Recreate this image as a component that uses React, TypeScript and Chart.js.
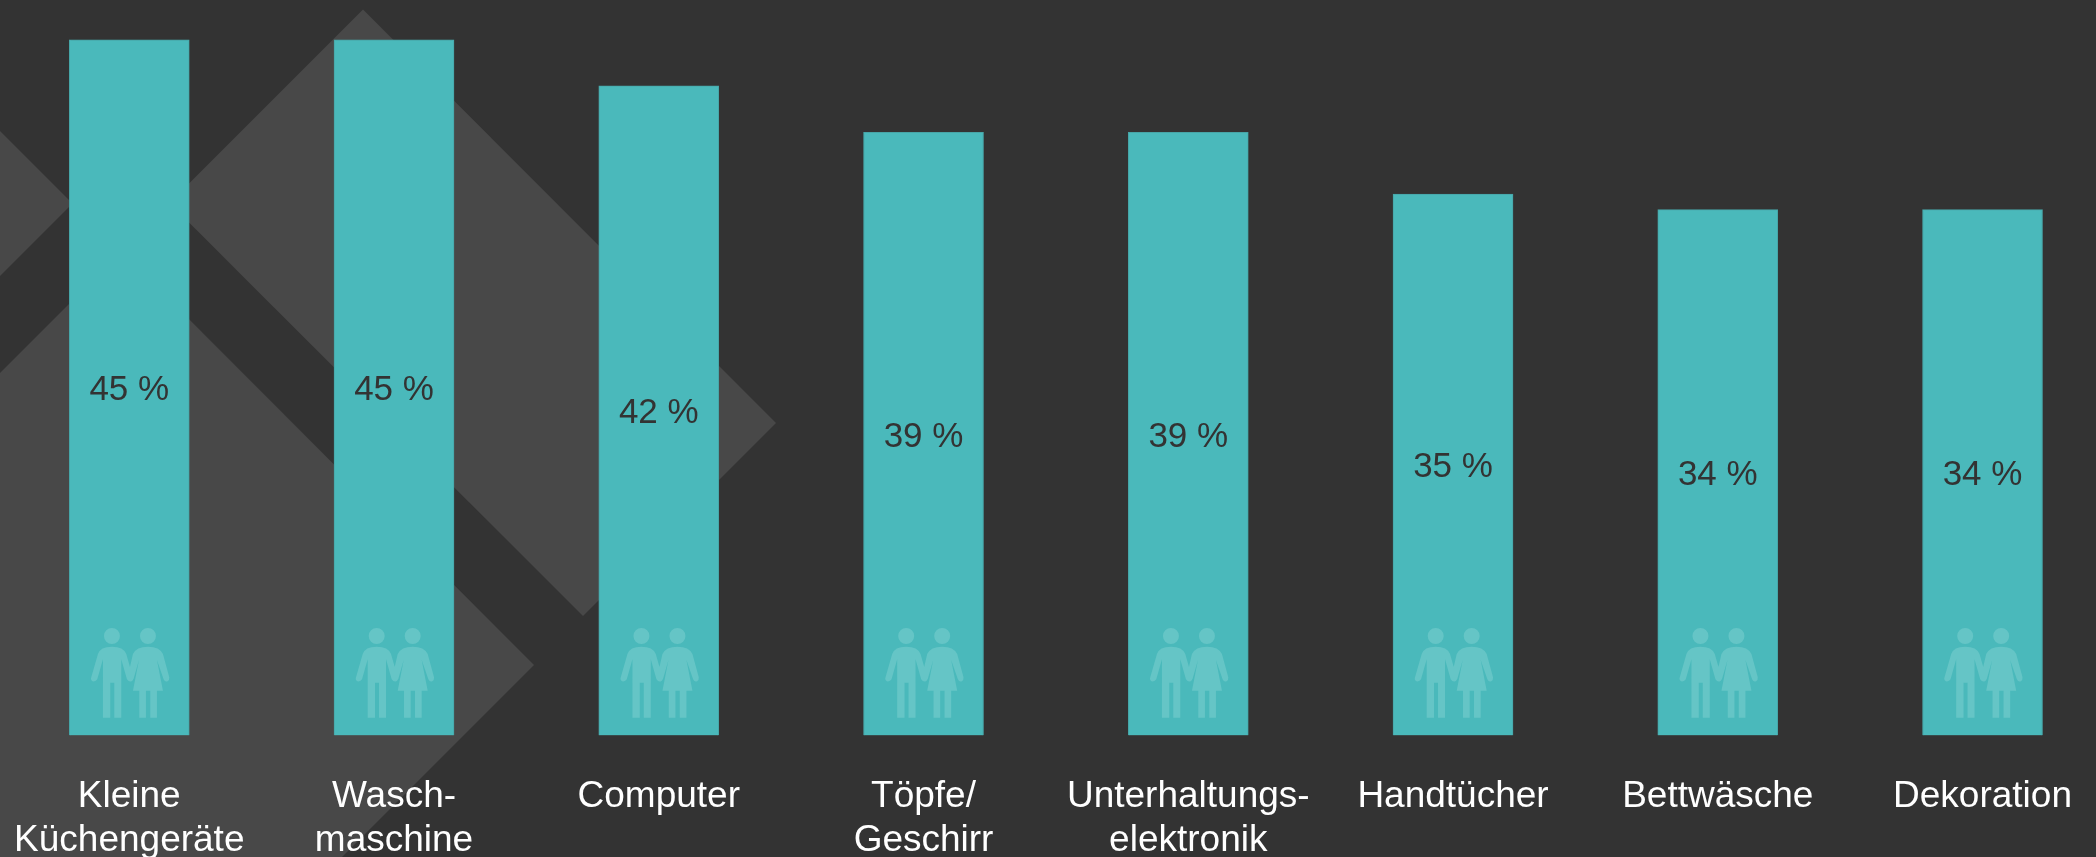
import React, { useEffect, useRef } from "react";
import { Chart, registerables } from "chart.js";

Chart.register(...registerables);

const categories: (string | string[])[] = [
  ["Kleine", "Küchengeräte"],
  ["Wasch-", "maschine"],
  "Computer",
  ["Töpfe/", "Geschirr"],
  ["Unterhaltungs-", "elektronik"],
  "Handtücher",
  "Bettwäsche",
  "Dekoration",
];
const shares = [45, 45, 42, 39, 39, 35, 34, 34];

const FONT = '"Liberation Sans", Arial, sans-serif';
const BG = "#333333";
const SHAPE = "#484848";
const BAR = "#4ab9bb";
const BAR_EDGE = "#47a5a7";
const ICON = "#65c5c6";
const LABEL_DARK = "#333333";

// Couple pictogram, in a 3x local grid; origin is moved per bar.
const COUPLE_PATH =
  "M158,353 L158,178 L141,238 Q136,246 127,244 Q120,240 123,232 L143,162 Q150,140 185,140 Q220,140 228,162 L248,232 Q250,240 244,244 Q236,247 230,238 L213,178 L213,353 L192,353 L192,248 L180,248 L180,353 Z " +
  "M267,353 L267,272 L248,272 L266,180 L250,236 Q246,246 238,244 Q230,240 232,232 L248,162 Q258,140 293,140 Q328,140 338,162 L357,232 Q358,240 352,244 Q344,247 340,238 L320,180 L338,272 L320,272 L320,353 L300,353 L300,272 L287,272 L287,353 Z";

const decorations = {
  id: "decorations",
  afterDatasetsDraw(chart: any) {
    const { ctx } = chart;
    const meta = chart.getDatasetMeta(0);
    ctx.save();
    meta.data.forEach((bar: any, i: number) => {
      // pictogram
      ctx.save();
      ctx.translate(bar.x - 129 + 50, bar.base - 735.5 + 600);
      ctx.scale(1 / 3, 1 / 3);
      ctx.fillStyle = ICON;
      ctx.fill(new Path2D(COUPLE_PATH));
      ctx.beginPath();
      ctx.arc(185, 108, 24, 0, Math.PI * 2);
      ctx.arc(293, 108, 24, 0, Math.PI * 2);
      ctx.fill();
      ctx.restore();
      // value
      ctx.fillStyle = LABEL_DARK;
      ctx.font = `35px ${FONT}`;
      ctx.textAlign = "center";
      ctx.textBaseline = "middle";
      ctx.fillText(`${shares[i]} %`, bar.x, (bar.y + bar.base) / 2 + 3);
    });
    ctx.restore();
  },
};

export default function App() {
  const ref = useRef<HTMLCanvasElement>(null);
  useEffect(() => {
    const chart = new Chart(ref.current!, {
      type: "bar",
      data: {
        labels: categories as any,
        datasets: [
          {
            data: shares,
            backgroundColor: BAR,
            borderColor: BAR_EDGE,
            borderWidth: 1,
            barThickness: 120,
          },
        ],
      },
      options: {
        animation: false,
        responsive: false,
        layout: { padding: { left: 0.9, right: 9.1, top: 39.5, bottom: 0 } },
        plugins: { legend: { display: false }, tooltip: { enabled: false } },
        scales: {
          x: {
            grid: { display: false },
            border: { display: false },
            afterFit(scale: any) {
              scale.height = 121.5;
              scale.paddingLeft = 0;
              scale.paddingRight = 0;
            },
            ticks: {
              color: "#ffffff",
              padding: 31,
              maxRotation: 0,
              autoSkip: false,
              font: { family: FONT, size: 37, lineHeight: 1.19 },
            },
          },
          y: { display: false, min: 0, max: 45 },
        },
      },
      plugins: [decorations],
    } as any);
    return () => chart.destroy();
  }, []);

  return (
    <div
      style={{
        position: "absolute",
        left: 0,
        top: 0,
        width: 2096,
        height: 857,
        overflow: "hidden",
        background: BG,
      }}
    >
      <svg
        width={2096}
        height={857}
        style={{ position: "absolute", left: 0, top: 0 }}
      >
        <polygon fill={SHAPE} points="363,9.5 776,423 583,616 169.5,203" />
        <polygon fill={SHAPE} points="0,131 72.5,203.5 0,276" />
        <polygon fill={SHAPE} points="121.5,251.5 534,665 342,857 0,857 0,373" />
      </svg>
      <canvas
        ref={ref}
        width={2128}
        height={857}
        style={{ position: "absolute", left: -4, top: 0, display: "block" }}
      />
    </div>
  );
}
